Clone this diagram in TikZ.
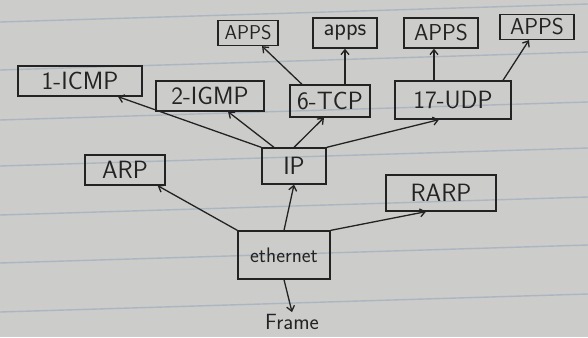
\documentclass[tikz,border=0pt]{standalone}
\usepackage{fontspec}
\usetikzlibrary{arrows.meta}
\definecolor{paper}{RGB}{204,204,202}
\definecolor{rule}{RGB}{150,168,186}
\definecolor{ink}{RGB}{35,35,35}
\tikzset{
  proto/.style={draw=ink, line width=1.3pt, rectangle, inner sep=0pt,
    font=\sffamily\fontsize{25}{27}\selectfont, text=ink},
  appbox/.style={proto, font=\sffamily\fontsize{23}{25}\selectfont},
  link/.style={draw=ink, line width=1.3pt, -{Straight Barb[length=5pt,width=8pt]}},
}
\begin{document}
\begin{tikzpicture}[x=1pt,y=-1pt]
  % sheet of lined paper
  \fill[paper] (0,0) rectangle (588,337);
  \useasboundingbox (0,0) rectangle (588,337);
  \foreach \y in {22,70,120,166,215,263,312} {
    \draw[rule, line width=1.4pt, opacity=0.6] (0,\y) -- (588,\y-18);
  }

  % application layer
  \node[appbox, minimum width=60, minimum height=25, font=\sffamily\fontsize{20}{22}\selectfont] (apps1) at (248,33) {APPS};
  \node[appbox, minimum width=64, minimum height=30, font=\sffamily\fontsize{24}{26}\selectfont] (apps2) at (345,33) {apps};
  \node[appbox, minimum width=74, minimum height=30] (apps3) at (441,33) {APPS};
  \node[appbox, minimum width=74, minimum height=25] (apps4) at (537,27) {APPS};

  % protocols carried by IP
  \node[proto, minimum width=124, minimum height=30] (icmp) at (80,81) {1-ICMP};
  \node[proto, minimum width=108, minimum height=30] (igmp) at (210,96) {2-IGMP};
  \node[proto, minimum width=80, minimum height=32] (tcp) at (330,101) {6-TCP};
  \node[proto, minimum width=116, minimum height=38] (udp) at (453,100) {17-UDP};

  % network layer
  \node[proto, minimum width=64, minimum height=36] (ip) at (294,166) {IP};
  \node[proto, minimum width=80, minimum height=30] (arp) at (125,170) {ARP};
  \node[proto, minimum width=110, minimum height=36] (rarp) at (441,193) {RARP};

  % link layer
  \node[proto, minimum width=92, minimum height=48, font=\sffamily\fontsize{21}{23}\selectfont] (eth) at (284,255) {ethernet};
  \node[font=\sffamily\fontsize{22}{24}\selectfont, text=ink, inner sep=2pt] (frame) at (292,322) {Frame};

  % demultiplexing arrows
  \draw[link] (eth.north west) -- ([xshift=-8]arp.south east);
  \draw[link] (eth.north) -- (ip.south);
  \draw[link] (eth.north east) -- ([xshift=-15]rarp.south);
  \draw[link] (eth.south) -- (frame.north);

  \draw[link] (ip.north west) -- ([xshift=38]icmp.south);
  \draw[link] ([xshift=-20]ip.north) -- ([xshift=18]igmp.south);
  \draw[link] (ip.north) -- ([xshift=-6]tcp.south);
  \draw[link] (ip.north east) -- ([xshift=-14]udp.south);

  \draw[link] ([xshift=-28]tcp.north) -- ([xshift=14]apps1.south);
  \draw[link] ([xshift=15]tcp.north) -- (apps2.south);
  \draw[link] ([xshift=-19]udp.north) -- ([xshift=-7]apps3.south);
  \draw[link] ([xshift=50]udp.north) -- ([xshift=-8]apps4.south);
\end{tikzpicture}
\end{document}
